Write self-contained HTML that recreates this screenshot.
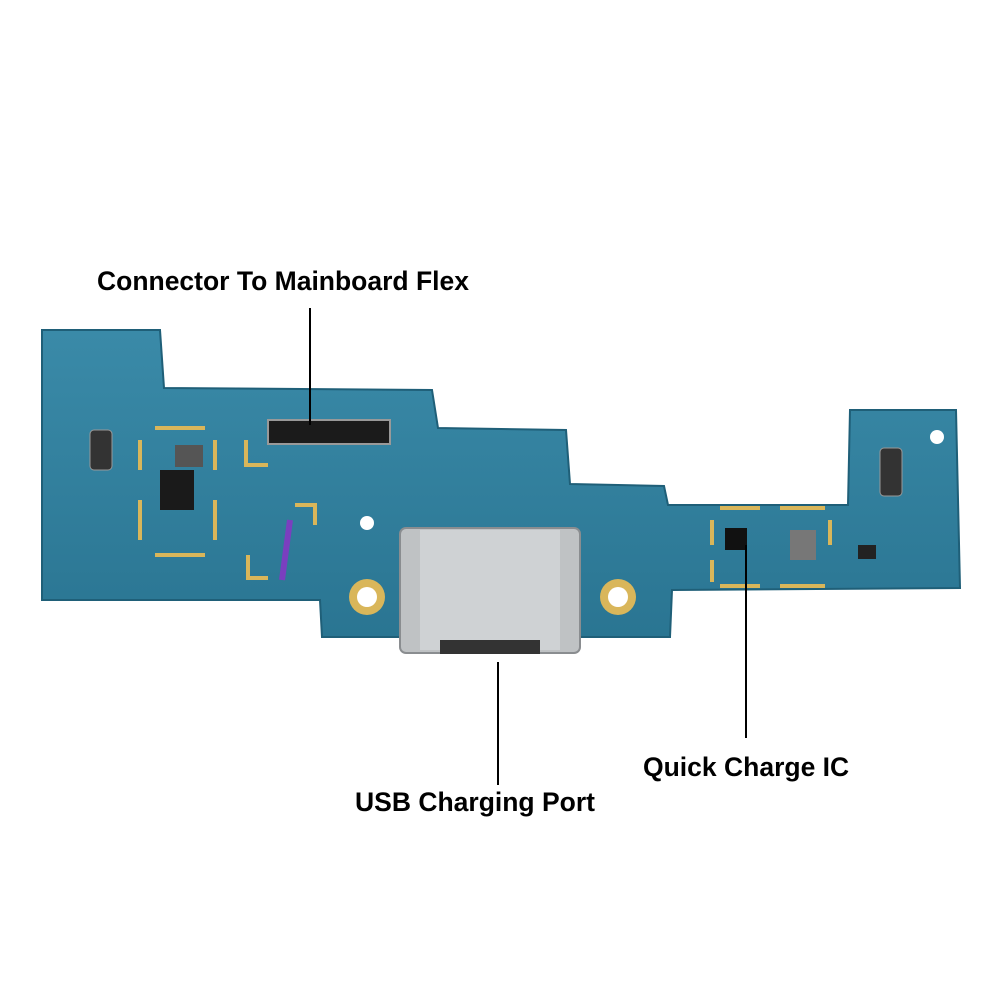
<!DOCTYPE html>
<html><head><style>
body{margin:0;background:#fff;width:1000px;height:1000px;overflow:hidden;font-family:"Liberation Sans",sans-serif}
</style></head><body>
<svg width="1000" height="1000" viewBox="0 0 1000 1000" xmlns="http://www.w3.org/2000/svg">
<defs>
<linearGradient id="g" x1="0" y1="0" x2="0" y2="1"><stop offset="0" stop-color="#3a8aa8"/><stop offset="1" stop-color="#2a7592"/></linearGradient>
</defs>
<path d="M42 330 L160 330 L164 388 L432 390 L438 428 L566 430 L570 484 L664 486 L668 505 L848 505 L850 410 L956 410 L960 588 L672 590 L670 637 L322 637 L320 600 L42 600 Z" fill="url(#g)" stroke="#1f5f78" stroke-width="2"/>
<g stroke="#d9b65a" stroke-width="4" fill="none">
<path d="M140 440 L140 470 M140 500 L140 540 M215 440 L215 470 M215 500 L215 540 M155 428 L205 428 M155 555 L205 555"/>
<path d="M712 520 L712 545 M712 560 L712 582 M830 520 L830 545 M720 508 L760 508 M780 508 L825 508 M720 586 L760 586 M780 586 L825 586"/>
<path d="M246 440 L246 465 L268 465 M295 505 L315 505 L315 525 M248 555 L248 578 L268 578"/>
</g>
<rect x="160" y="470" width="34" height="40" fill="#1a1a1a"/>
<rect x="175" y="445" width="28" height="22" fill="#555"/>
<rect x="90" y="430" width="22" height="40" rx="4" fill="#333" stroke="#999"/>
<rect x="880" y="448" width="22" height="48" rx="4" fill="#333" stroke="#999"/>
<rect x="725" y="528" width="22" height="22" fill="#111"/>
<rect x="790" y="530" width="26" height="30" fill="#777"/>
<rect x="268" y="420" width="122" height="24" fill="#1b1b1b" stroke="#999" stroke-width="2"/>
<rect x="858" y="545" width="18" height="14" fill="#222"/>
<circle cx="937" cy="437" r="7" fill="#fff"/>
<circle cx="367" cy="523" r="7" fill="#fff"/>
<circle cx="367" cy="597" r="18" fill="#d9b65a"/><circle cx="367" cy="597" r="10" fill="#fff"/>
<circle cx="618" cy="597" r="18" fill="#d9b65a"/><circle cx="618" cy="597" r="10" fill="#fff"/>
<rect x="400" y="528" width="180" height="125" rx="6" fill="#bfc2c4" stroke="#8a8d90" stroke-width="2"/>
<rect x="420" y="530" width="140" height="120" fill="#cfd2d4"/>
<rect x="440" y="640" width="100" height="14" fill="#333"/>
<path d="M290 520 L282 580" stroke="#7a3fbf" stroke-width="6"/>
<g stroke="#000" stroke-width="2">
<line x1="310" y1="308" x2="310" y2="425"/>
<line x1="498" y1="662" x2="498" y2="785"/>
<line x1="746" y1="545" x2="746" y2="738"/>
</g>
<g font-family="Liberation Sans, sans-serif" font-weight="bold" font-size="26.5" fill="#000">
<text x="97" y="290">Connector To Mainboard Flex</text>
<text x="355" y="811">USB Charging Port</text>
<text x="643" y="776">Quick Charge IC</text>
</g>
</svg>
</body></html>
